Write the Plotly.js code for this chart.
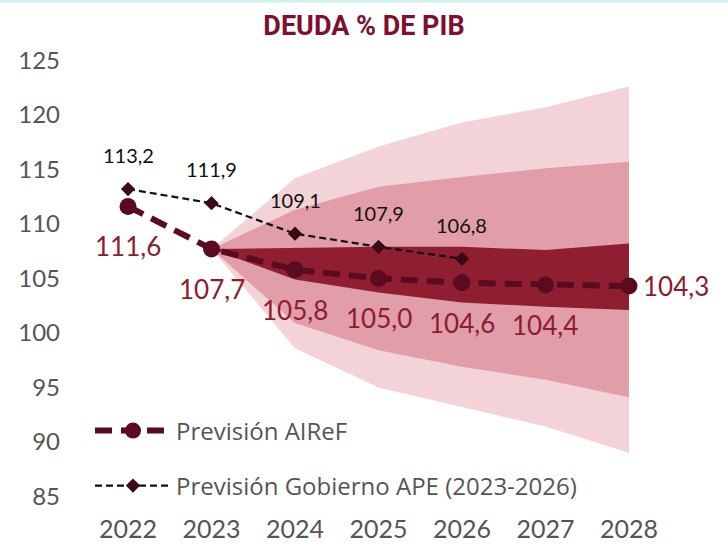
<!DOCTYPE html>
<html>
<head>
<meta charset="utf-8">
<script src="https://cdn.plot.ly/plotly-3.0.1.min.js"></script>
<style>html,body{margin:0;padding:0;background:#fff;}#chart{width:728px;height:545px;}</style>
</head>
<body>
<div id="chart"></div>
<script>
// ---- data ----
const years = [2022, 2023, 2024, 2025, 2026, 2027, 2028];
const airef = [111.6, 107.7, 105.8, 105.0, 104.6, 104.4, 104.3];
const airefLabels = ["111,6", "107,7", "105,8", "105,0", "104,6", "104,4", "104,3"];
const govYears = [2022, 2023, 2024, 2025, 2026];
const gov = [113.2, 111.9, 109.1, 107.9, 106.8];
const govLabels = ["113,2", "111,9", "109,1", "107,9", "106,8"];
// fan chart bands (2023-2028)
const fanYears = [2023, 2024, 2025, 2026, 2027, 2028];
const outerUpper = [107.7, 114.2, 117.1, 119.3, 120.7, 122.6];
const outerLower = [107.7, 98.6, 95.0, 93.2, 91.4, 89.0];
const midUpper = [107.7, 111.3, 113.4, 114.3, 115.1, 115.7];
const midLower = [107.7, 100.9, 98.4, 96.9, 95.7, 94.1];
const innerUpper = [107.7, 107.8, 107.9, 107.9, 107.6, 108.2];
const innerLower = [107.7, 104.9, 103.7, 102.8, 102.4, 102.1];
const yTicks = [85, 90, 95, 100, 105, 110, 115, 120, 125];

function band(upper, lower, color) {
  return {
    x: fanYears.concat(fanYears.slice().reverse()),
    y: upper.concat(lower.slice().reverse()),
    type: 'scatter', mode: 'lines', fill: 'toself', fillcolor: color,
    line: {width: 0, color: color}, hoverinfo: 'skip', showlegend: false
  };
}

const FONT = 'Lato, "Open Sans", sans-serif';
const LFONT = '"Open Sans", Lato, sans-serif';
const traces = [
  band(outerUpper, outerLower, '#f3d2d8'),
  band(midUpper, midLower, '#e19ea8'),
  band(innerUpper, innerLower, '#8f1f30'),
  {
    x: govYears, y: gov, type: 'scatter', mode: 'lines+markers',
    name: 'Previsión Gobierno APE (2023-2026)', legend: 'legend2',
    line: {color: '#111111', width: 2.2, dash: '7px,4px'},
    marker: {symbol: 'diamond', size: 11, color: '#3a0a16'}
  },
  {
    x: years, y: airef, type: 'scatter', mode: 'lines+markers',
    name: 'Previsión AIReF', legend: 'legend',
    line: {color: '#5a0b1f', width: 6, dash: '17px,9px'},
    marker: {symbol: 'circle', size: 17, color: '#5a0b1f'}
  }
];

const annotations = [];
airef.forEach((v, i) => {
  const last = i === airef.length - 1;
  annotations.push({
    x: years[i], y: v, xref: 'x', yref: 'y', text: airefLabels[i], showarrow: false,
    font: {family: FONT, size: 26, color: '#8c1c30'},
    xanchor: last ? 'left' : 'center', yanchor: 'middle',
    xshift: last ? 12 : 0, yshift: last ? 0 : -40
  });
});
gov.forEach((v, i) => {
  annotations.push({
    x: govYears[i], y: v, xref: 'x', yref: 'y', text: govLabels[i], showarrow: false,
    font: {family: FONT, size: 20, color: '#111111'},
    xanchor: 'center', yanchor: 'middle', yshift: 34
  });
});

const layout = {
  width: 728, height: 545,
  margin: {l: 70, r: 0, t: 25, b: 35},
  paper_bgcolor: '#ffffff', plot_bgcolor: '#ffffff',
  title: {
    text: '<b>DEUDA % DE PIB</b>', x: 0.5, xref: 'container', xanchor: 'center',
    y: 0.954, yref: 'container', yanchor: 'middle',
    font: {family: '"Liberation Sans Narrow", "Roboto", sans-serif', size: 27, color: '#7e0f30'}
  },
  xaxis: {
    range: [2021.305, 2029.186], tickvals: years, ticktext: years.map(String),
    showgrid: false, zeroline: false, showline: false, ticks: '',
    tickfont: {family: FONT, size: 25, color: '#555555'}, ticklabelstandoff: 2, fixedrange: true
  },
  yaxis: {
    range: [83.75, 128.25], tickvals: yTicks, ticktext: yTicks.map(String),
    showgrid: false, zeroline: false, showline: false, ticks: '',
    tickfont: {family: FONT, size: 24, color: '#555555'}, ticklabelstandoff: 9, fixedrange: true
  },
  legend: {
    x: 20 / 658, y: (510 - 431) / 485, xanchor: 'left', yanchor: 'middle',
    bgcolor: 'rgba(0,0,0,0)', itemwidth: 76,
    font: {family: LFONT, size: 24, color: '#555555'}
  },
  legend2: {
    x: 20 / 658, y: (510 - 486) / 485, xanchor: 'left', yanchor: 'middle',
    bgcolor: 'rgba(0,0,0,0)', itemwidth: 76,
    font: {family: LFONT, size: 24, color: '#555555'}
  },
  annotations: annotations,
  shapes: [{
    type: 'line', xref: 'paper', yref: 'paper', x0: -70 / 658, x1: 1,
    y0: (510 - 1) / 485, y1: (510 - 1) / 485, line: {color: '#cdeff2', width: 3}
  }],
  showlegend: true
};

Plotly.newPlot('chart', traces, layout, {displayModeBar: false, staticPlot: true});
</script>
</body>
</html>
